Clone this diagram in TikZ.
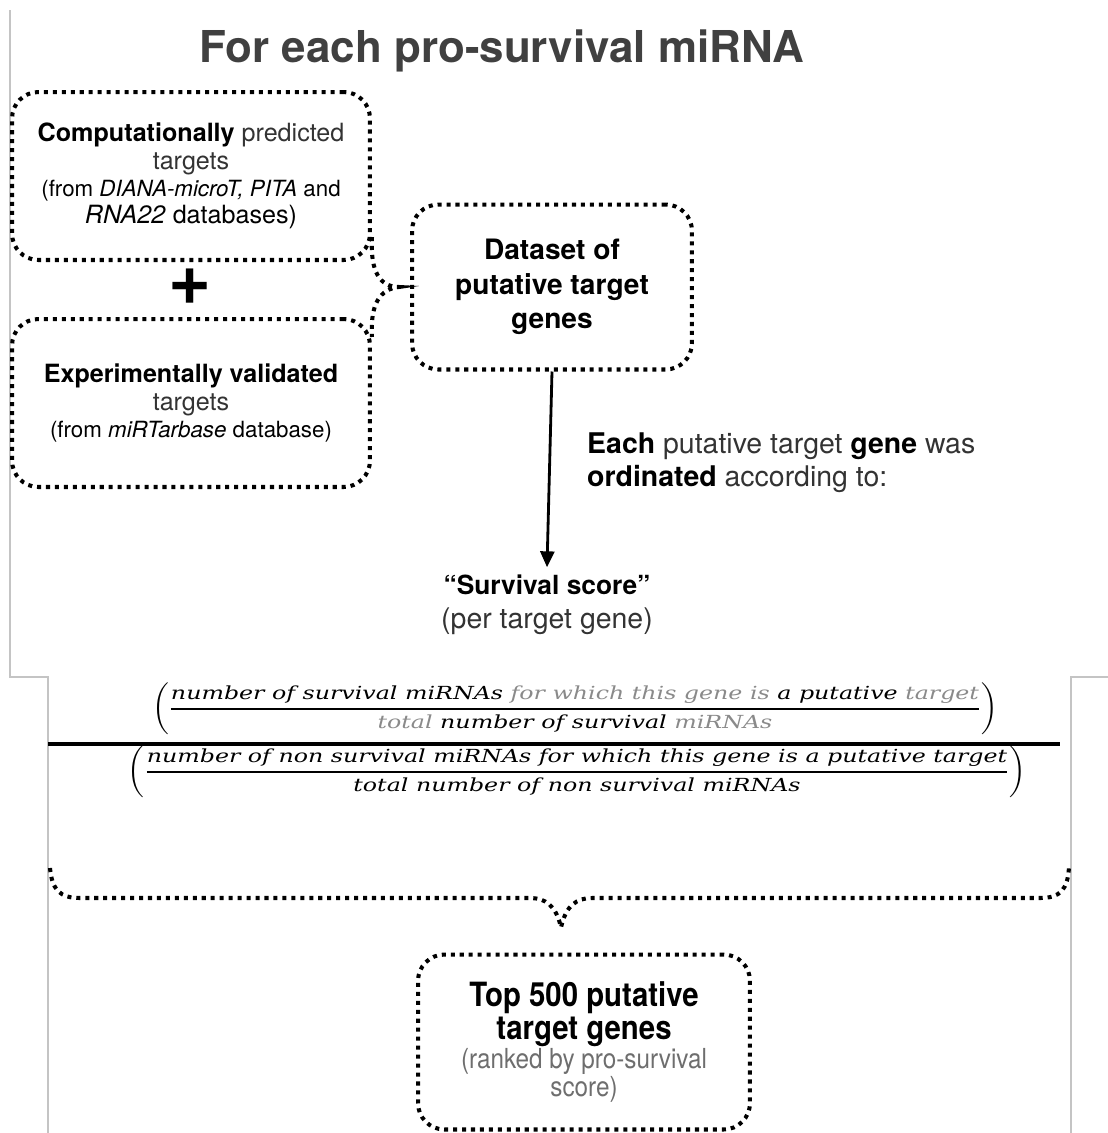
\documentclass[tikz,border=0pt]{standalone}
\usepackage{amsmath}
\usepackage{graphicx}
\usepackage{fontspec}
\setmainfont{TeX Gyre Heros}
\newfontfamily\narrowfont[FakeStretch=0.88]{TeX Gyre Heros}
\newfontfamily\formfont[FakeStretch=1.08]{DejaVu Serif}
\usetikzlibrary{arrows.meta,positioning}
\definecolor{titlegray}{HTML}{404040}
\definecolor{textgray}{HTML}{333333}
\definecolor{softgray}{HTML}{6E6E6E}
\definecolor{formgray}{HTML}{8A8A8A}
\definecolor{framegray}{HTML}{C4C4C4}

\begin{document}
\begin{tikzpicture}[
    x=0.02cm, y=-0.02cm,
    dotline/.style={line width=2.3pt, dash pattern=on 2.3pt off 2.8pt},
    dotbox/.style={rectangle, draw, rounded corners=15pt, dotline, align=center, inner sep=0pt},
    srcbox/.style={dotbox, minimum width=7.16cm, minimum height=3.36cm},
    arrow/.style={-{Triangle[width=8pt,length=9pt]}, line width=1.6pt},
    frame/.style={draw=framegray, line width=0.6pt}
]
    \useasboundingbox (0,0) rectangle (1108,1133);

    % Frame
    \draw[frame] (10,10) -- (10,677) -- (48,677) -- (48,1133);
    \draw[frame] (1108,677) -- (1071,677) -- (1071,1133);

    % Title
    \node[font=\fontsize{25}{29}\selectfont\bfseries, text=titlegray] (title) at (502,51) {For each pro-survival miRNA};

    % Sources
    \node[srcbox, font=\fontsize{14.3}{15.5}\selectfont] (comp) at (191,176)
        {\textbf{Computationally} \textcolor{textgray}{predicted}\\
         \textcolor{textgray}{targets}\\
         \fontsize{12.7}{14.5}\selectfont (from \textit{DIANA-microT, PITA} and\\
         \textit{RNA22} databases)};
    \node[font=\fontsize{42}{42}\selectfont\bfseries] (plus) at (190,287) {+};
    \node[srcbox, font=\fontsize{14.3}{15.5}\selectfont] (exper) at (191,403)
        {\textbf{Experimentally validated}\\
         \textcolor{textgray}{targets}\\
         \fontsize{12.7}{15.5}\selectfont (from \textit{miRTarbase} database)};

    % Dataset
    \node[dotbox, minimum width=5.6cm, minimum height=3.3cm, font=\fontsize{16}{19.5}\selectfont\bfseries] (dataset) at (552,287)
        {Dataset of\\ putative target\\ genes};

    % Brace into dataset
    \coordinate (tipA) at ([xshift=-0.22cm]dataset.west);
    \draw[dotline] ([yshift=0.5cm]comp.south east) .. controls (370,272) and (380,287) .. (tipA)
        .. controls (380,289) and (370,304) .. ([yshift=-0.4cm]exper.north east);

    % Score
    \node[align=center, font=\fontsize{16.2}{19.3}\selectfont] (score) at (547,605)
        {\fontsize{15}{19.3}\selectfont\textbf{``Survival score''}\\
         \fontsize{16.2}{19.3}\selectfont\textcolor{textgray}{(per target gene)}};
    \draw[arrow] (dataset.south) -- ([yshift=1pt]score.north);

    \node[anchor=north west, align=left, font=\fontsize{16.2}{18.3}\selectfont] (ordin) at (581,427)
        {\textbf{Each} \textcolor{textgray}{putative target} \textbf{gene} \textcolor{textgray}{was}\\
         \textbf{ordinated} \textcolor{textgray}{according to:}};

    % Formula
    \node (numer) at (575,709) {\scalebox{1}[0.82]{\fontsize{12.5}{14}\selectfont
        $\left(\genfrac{}{}{1.1pt}{0}%
        {\text{\formfont\itshape number of survival miRNAs \textcolor{formgray}{for which this gene is} a putative \textcolor{formgray}{target}}}%
        {\text{\formfont\itshape \textcolor{formgray}{total} number of survival \textcolor{formgray}{miRNAs}}}\right)$}};
    \draw[line width=2.3pt] (48,744) -- (1060,744);
    \node (denom) at (577,772) {\scalebox{1}[0.82]{\fontsize{12.5}{14}\selectfont
        $\left(\genfrac{}{}{1.1pt}{0}%
        {\text{\formfont\itshape number of non survival miRNAs for which this gene is a putative target}}%
        {\text{\formfont\itshape total number of non survival miRNAs}}\right)$}};

    % Top genes
    \node[dotbox, minimum width=6.64cm, minimum height=3.5cm] (top500) at (584,1042)
        {\narrowfont\fontsize{19}{20}\selectfont\bfseries Top 500 putative\\[1pt]
         \narrowfont\fontsize{19}{20}\selectfont\bfseries target genes\\
         \narrowfont\fontsize{15.7}{15.5}\selectfont\color{softgray} (ranked by pro-survival\\
         \narrowfont\fontsize{15.7}{15.5}\selectfont\color{softgray} score)};

    % Brace into top genes
    \coordinate (tipB) at ([xshift=-0.46cm, yshift=0.5cm]top500.north);
    \draw[dotline] (50,868) .. controls (52,890) and (60,898) .. (80,898) -- (530,898)
        .. controls (545,898) and (556,905) .. (tipB)
        .. controls (566,905) and (577,898) .. (592,898) -- (1040,898)
        .. controls (1060,898) and (1068,890) .. (1069,866);

\end{tikzpicture}
\end{document}
